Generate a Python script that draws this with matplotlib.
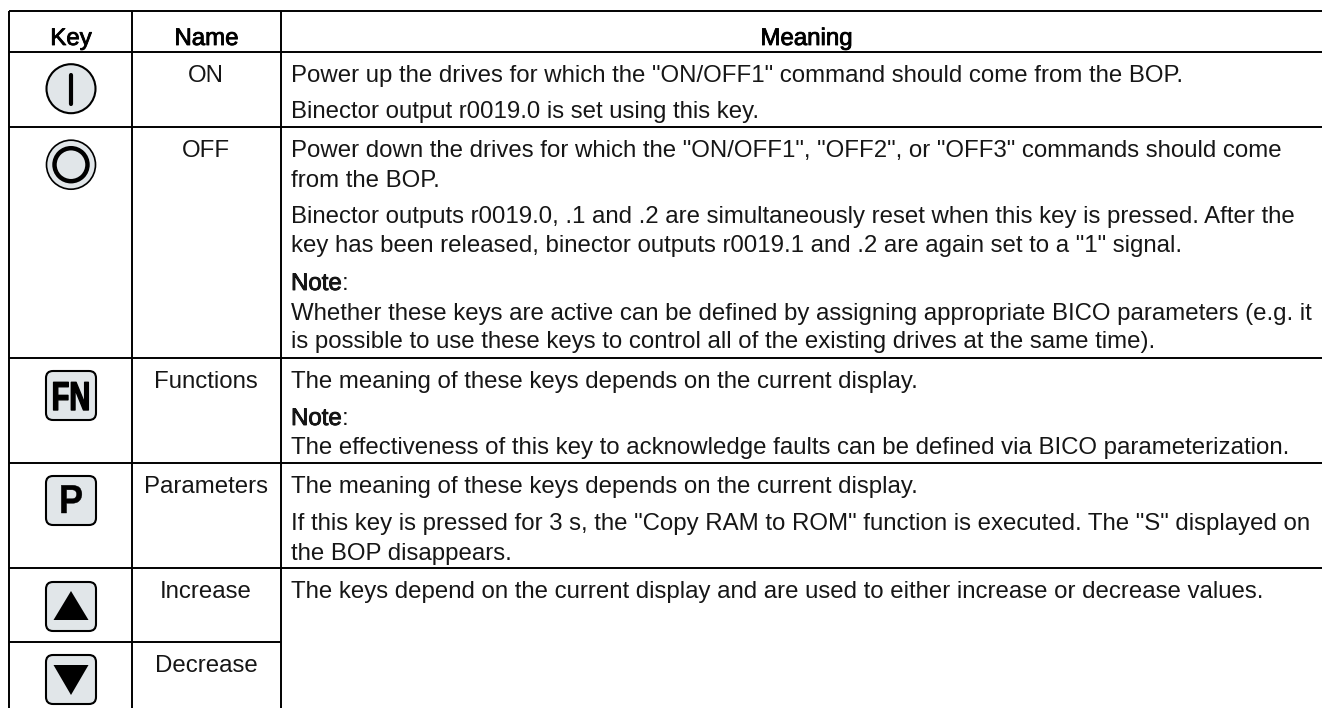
import matplotlib
matplotlib.use("Agg")
import matplotlib.pyplot as plt
import matplotlib.patheffects as pe
from matplotlib.patches import Circle, FancyBboxPatch, Polygon
from matplotlib.transforms import Affine2D

plt.rcParams['font.family'] = ['Liberation Sans', 'DejaVu Sans']

# Table content
headers = ["Key", "Name", "Meaning"]
names = ["ON", "OFF", "Functions", "Parameters", "Increase", "Decrease"]
on_lines = [
    'Power up the drives for which the "ON/OFF1" command should come from the BOP.',
    'Binector output r0019.0 is set using this key.',
]
off_lines = [
    'Power down the drives for which the "ON/OFF1", "OFF2", or "OFF3" commands should come',
    'from the BOP.',
    'Binector outputs r0019.0, .1 and .2 are simultaneously reset when this key is pressed. After the',
    'key has been released, binector outputs r0019.1 and .2 are again set to a "1" signal.',
    'Note',
    'Whether these keys are active can be defined by assigning appropriate BICO parameters (e.g. it',
    'is possible to use these keys to control all of the existing drives at the same time).',
]
fn_lines = [
    'The meaning of these keys depends on the current display.',
    'Note',
    'The effectiveness of this key to acknowledge faults can be defined via BICO parameterization.',
]
p_lines = [
    'The meaning of these keys depends on the current display.',
    'If this key is pressed for 3 s, the "Copy RAM to ROM" function is executed. The "S" displayed on',
    'the BOP disappears.',
]
arrow_lines = [
    'The keys depend on the current display and are used to either increase or decrease values.',
]
all_lines = [on_lines, off_lines, fn_lines, p_lines, arrow_lines]

# Layout in pixels
col_x = [9, 131.5, 281]
row_y = [11, 52, 127, 358, 463, 568, 642]
name_base = [82, 157, 388, 493, 598, 672]
line_base = [[82, 118], [157, 187, 223, 252, 290, 320, 348], [388, 425, 454],
             [493, 530, 560], [598]]
FS = 17.3
TEXT = '#161616'
KEY_FILL = '#e1e6e9'


class Squeeze(pe.AbstractPathEffect):
    # narrows a text horizontally around a pixel position, with an outline to thicken it
    def __init__(self, cx, sx, stroke):
        super().__init__()
        self.cx = cx
        self.sx = sx
        self.stroke = stroke

    def draw_path(self, renderer, gc, tpath, affine, rgbFace=None):
        squeeze = Affine2D().translate(-self.cx, 0).scale(self.sx, 1).translate(self.cx, 0)
        gc0 = renderer.new_gc()
        gc0.copy_properties(gc)
        gc0.set_linewidth(self.stroke)
        gc0.set_foreground('black')
        renderer.draw_path(gc0, tpath, affine + squeeze, rgbFace)
        gc0.restore()


def bold(t):
    t.set_path_effects([pe.withStroke(linewidth=0.6, foreground='black')])


def key_box(ax, top):
    ax.add_patch(FancyBboxPatch((50, top + 5), 42, 41, boxstyle='round,pad=4,rounding_size=7',
                                fc=KEY_FILL, ec='black', lw=1.5))


fig = plt.figure(figsize=(13.22, 7.08), dpi=100)
ax = fig.add_axes([0, 0, 1, 1])
ax.set_xlim(0, 1322)
ax.set_ylim(708, 0)
ax.axis('off')

# Grid lines
for x in col_x:
    ax.plot([x, x], [row_y[0], 708], color='black', lw=1.4, solid_capstyle='butt')
for y in row_y:
    x1 = col_x[2] if y == 642 else 1322
    ax.plot([col_x[0], x1], [y, y], color='black', lw=1.4, solid_capstyle='butt')

# Header
for name, x in zip(headers, [71, 206.5, 806.5]):
    bold(ax.text(x, 45, name, ha='center', va='baseline', fontsize=FS))

# Name column
for name, y in zip(names, name_base):
    ax.text(206, y, name, ha='center', va='baseline', fontsize=FS, color=TEXT)

# Meaning column
for lines, bases in zip(all_lines, line_base):
    for line, y in zip(lines, bases):
        t = ax.text(291, y, line, ha='left', va='baseline', fontsize=FS, color=TEXT)
        if line == 'Note':
            bold(t)
            ax.text(291 + t.get_window_extent(fig.canvas.get_renderer()).width, y, ':',
                    ha='left', va='baseline', fontsize=FS, color=TEXT)

# ON key
ax.add_patch(Circle((71, 88.7), 24.5, fc=KEY_FILL, ec='black', lw=1.5))
ax.plot([71, 71], [75, 104], color='black', lw=3, solid_capstyle='round')

# OFF key
ax.add_patch(Circle((71, 164.7), 24.5, fc=KEY_FILL, ec='black', lw=1.2))
ax.add_patch(Circle((71, 164.7), 16.5, fc=KEY_FILL, ec='black', lw=3.2))

# FN key
key_box(ax, 370)
fn = ax.text(71, 410, 'FN', ha='center', va='baseline', fontsize=29, fontweight='bold')
fn.set_path_effects([Squeeze(71, 0.72, 1.0)])

# P key
key_box(ax, 475)
p = ax.text(71, 513, 'P', ha='center', va='baseline', fontsize=29, fontweight='bold')
p.set_path_effects([Squeeze(71, 0.9, 0.3)])

# Arrow keys
key_box(ax, 581)
ax.add_patch(Polygon([(53.5, 620), (88.5, 620), (71, 591)], fc='black', ec='none'))
key_box(ax, 654)
ax.add_patch(Polygon([(53.5, 665), (88.5, 665), (71, 695)], fc='black', ec='none'))

fig.savefig('out.png', dpi=100)
